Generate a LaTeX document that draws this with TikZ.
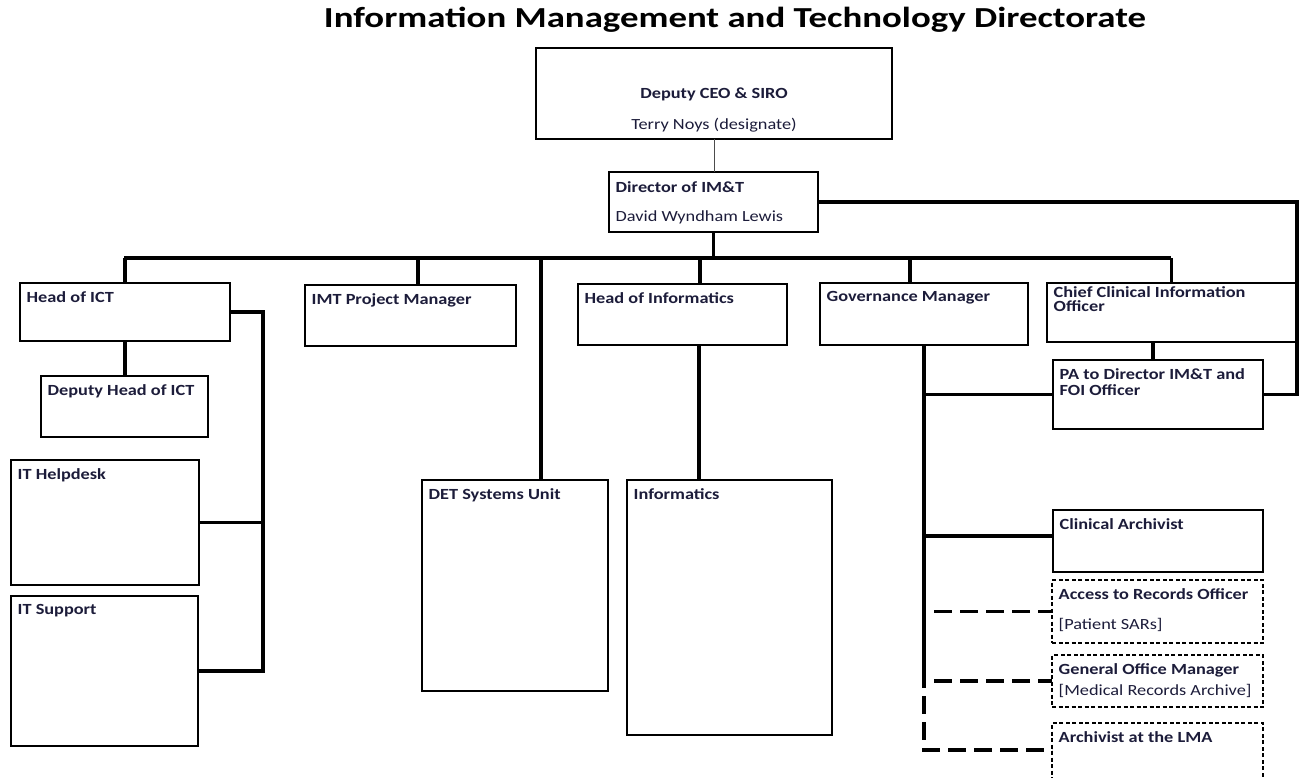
\documentclass[tikz,border=0pt]{standalone}
\usepackage{fontspec}
\setmainfont{Carlito}
\newfontfamily\chartfont{Carlito}[FakeStretch=1.18]
\newfontfamily\headfont{Carlito}[FakeStretch=1.27]
\usetikzlibrary{positioning, calc}
\definecolor{labelink}{RGB}{28,28,58}

\begin{document}
\begin{tikzpicture}[
        x=1pt, y=-1pt,
        % --- STYLES ---
        post/.style={
                draw=black,
                line width=2pt,
                anchor=north west,
                inner sep=0pt,
                outer sep=0pt
            },
        keypost/.style={post, line width=2.8pt},
        openpost/.style={post, line width=1.8pt, dash pattern=on 4pt off 2.5pt},
        tagfont/.style={
                inner sep=0pt,
                text=labelink,
                font=\chartfont\fontsize{15.5}{19}\selectfont\bfseries
            },
        tag/.style={tagfont, anchor=north west, align=left, xshift=6.5pt, yshift=-8pt},
        link/.style={line width=3.8pt},
        dashlink/.style={link, dash pattern=on 18pt off 8pt},
        thinlink/.style={draw=black!70, line width=0.9pt}
    ]

    \fill[white] (0,0) rectangle (1303,777);
    \useasboundingbox (0,0) rectangle (1303,777);

    % 0. Title
    \node[font=\headfont\fontsize{29}{35}\selectfont\bfseries] (heading) at (735,20)
        {Information Management and Technology Directorate};

    % 1. Top of the chart
    \node[post, line width=1.6pt, minimum width=356pt, minimum height=91pt,
        label={[tagfont, anchor=north, align=center, yshift=-40pt]north:Deputy CEO \& SIRO\\[12pt]{\mdseries Terry Noys (designate)}}] (ceo) at (536,48) {};
    \node[post, minimum width=209pt, minimum height=60pt,
        label={[tag, yshift=-1pt]north west:Director of IM\&T\\[10pt]{\mdseries David Wyndham Lewis}}] (dir) at (609,172) {};

    % 2. Second row
    \node[post, minimum width=210pt, minimum height=58pt, label={[tag]north west:Head of ICT}] (ict) at (20,283) {};
    \node[post, minimum width=211pt, minimum height=61pt, label={[tag]north west:IMT Project Manager}] (imt) at (305,285) {};
    \node[post, minimum width=209pt, minimum height=61pt, label={[tag]north west:Head of Informatics}] (hinf) at (578,284) {};
    \node[post, minimum width=208pt, minimum height=62pt, label={[tag]north west:Governance Manager}] (gov) at (820,283) {};
    \node[post, minimum width=249pt, minimum height=59pt,
        label={[tag, yshift=5pt]north west:Chief Clinical Information\\[-5pt]Officer}] (ccio) at (1047,283) {};
    \node[keypost, minimum width=210pt, minimum height=69pt,
        label={[tag]north west:PA to Director IM\&T and\\[-3pt]FOI Officer}] (pa) at (1053,360) {};

    % 3. ICT teams
    \node[post, minimum width=167pt, minimum height=61pt, label={[tag]north west:Deputy Head of ICT}] (dep) at (41,376) {};
    \node[keypost, minimum width=188pt, minimum height=125pt, label={[tag]north west:IT Helpdesk}] (help) at (11,460) {};
    \node[keypost, minimum width=187pt, minimum height=150pt, label={[tag]north west:IT Support}] (supp) at (11,596) {};

    % 4. Units
    \node[keypost, minimum width=186pt, minimum height=211pt, label={[tag]north west:DET Systems Unit}] (det) at (422,480) {};
    \node[post, minimum width=205pt, minimum height=255pt, label={[tag]north west:Informatics}] (infm) at (627,480) {};

    % 5. Governance teams
    \node[keypost, minimum width=210pt, minimum height=62pt, label={[tag]north west:Clinical Archivist}] (clin) at (1053,510) {};
    \node[openpost, minimum width=211pt, minimum height=63pt,
        label={[tag]north west:Access to Records Officer\\[11pt]{\mdseries [Patient SARs]}}] (atr) at (1052,580) {};
    \node[openpost, minimum width=211pt, minimum height=52pt,
        label={[tag]north west:General Office Manager\\[2pt]{\mdseries [Medical Records Archive]}}] (gom) at (1052,655) {};
    \node[openpost, minimum width=211pt, minimum height=70pt, label={[tag]north west:Archivist at the LMA}] (lma) at (1052,723) {};

    % --- CONNECTORS ---
    \coordinate (busL) at (124,258);
    \coordinate (busR) at (1171,258);
    \coordinate (imtT) at ([xshift=113pt]imt.north west);
    \coordinate (detT) at ([xshift=119pt]det.north west);
    \coordinate (hinfT) at ([xshift=122pt]hinf.north west);
    \coordinate (hinfB) at ([xshift=121pt]hinf.south west);
    \coordinate (govT) at ([xshift=90pt]gov.north west);
    \coordinate (paT) at ([xshift=100pt]pa.north west);
    \coordinate (rbar) at (1297,0);
    \coordinate (ictbar) at (263,0);
    \coordinate (spineEnd) at ([yshift=-343pt]gov.south);
    \coordinate (spineX) at ([xshift=10pt]gov.south);
    \coordinate (clinW) at ([yshift=5pt]clin.west);
    \coordinate (lmaW) at ([yshift=-27pt]lma.north west);

    \draw[thinlink] (ceo.south) -- (ceo.south |- dir.north);
    \draw[link] (dir.south) -- (dir.south |- busL);
    \draw[link] (busL) -- (busR);
    \draw[link] (ict.north) -- (ict.north |- busL);
    \draw[link] (imtT) -- (imtT |- busL);
    \draw[link] (detT) -- (detT |- busL);
    \draw[link] (hinfT) -- (hinfT |- busL);
    \draw[link] (govT) -- (govT |- busL);
    \draw[link] (ccio.north) -- (ccio.north |- busR);
    \draw[link] (hinfB) -- (hinfB |- infm.north);
    \draw[link] (paT) -- (paT |- ccio.south);
    \draw[link] (dir.east) -| (rbar |- pa.east) -- (pa.east);

    % ICT side bar
    \draw[link] (ict.south) -- (ict.south |- dep.north);
    \draw[link] (ict.east) -| (ictbar |- supp.east) -- (supp.east);
    \draw[link] (help.east) -- (help.east -| ictbar);

    % Governance spine
    \draw[link] (gov.south) -- (spineEnd);
    \draw[link] (pa.west) -- (pa.west -| gov.south);
    \draw[link] (clinW) -- (clinW -| gov.south);
    \draw[dashlink] (atr.west -| spineX) -- (atr.west);
    \draw[dashlink] (gom.west -| spineX) -- (gom.west);
    \draw[dashlink, dash phase=18pt] (spineEnd) |- (lmaW);

\end{tikzpicture}
\end{document}
